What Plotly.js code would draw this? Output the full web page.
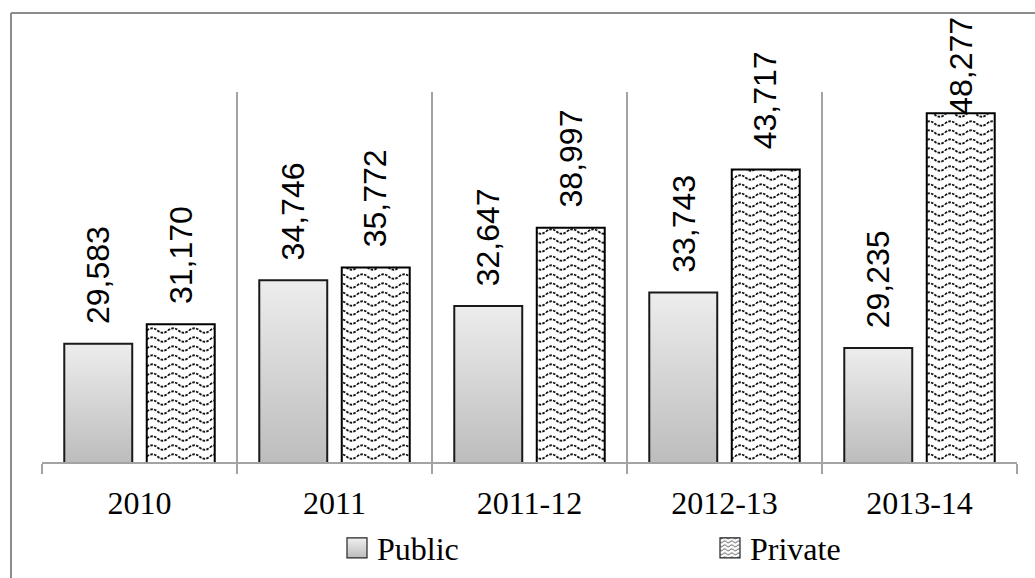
<!DOCTYPE html>
<html><head><meta charset="utf-8">
<script src="https://cdn.plot.ly/plotly-3.0.1.min.js"></script>
<style>html,body{margin:0;padding:0;background:#fff;} #chart{width:1035px;height:578px;}</style>
</head><body><div id="chart"></div>
<script>
// ---- data ----
const categories = ['2010', '2011', '2011-12', '2012-13', '2013-14'];
const publicValues = [29583, 34746, 32647, 33743, 29235];
const privateValues = [31170, 35772, 38997, 43717, 48277];
const seriesNames = ['Public', 'Private'];

// ---- layout constants ----
const W = 1035, H = 578;
const M = {l: 42, r: 18, t: 92, b: 116, autoexpand: false};
const plotW = W - M.l - M.r, plotH = H - M.t - M.b;
const yMin = 20000, yMax = 50000;
const bargap = 0.154, bargroupgap = 0.176;
const slotPx = plotW / categories.length * (1 - bargap) / 2;
const labelGap = 18, labelLen = 95, labelTopLimit = 22;

function fmt(v) { return v.toLocaleString('en-US'); }
function valToPx(v) { return M.t + (yMax - v) / (yMax - yMin) * plotH; }

const traces = [
  {type: 'bar', name: seriesNames[0], x: categories, y: publicValues, legend: 'legend',
   marker: {color: '#d6d6d6', line: {color: '#1a1a1a', width: 2}}, hoverinfo: 'none'},
  {type: 'bar', name: seriesNames[1], x: categories, y: privateValues, legend: 'legend2',
   marker: {color: '#ffffff', line: {color: '#000000', width: 2}}, hoverinfo: 'none'}
];

const annotations = [];
[publicValues, privateValues].forEach((vals, s) => {
  vals.forEach((v, i) => {
    const room = valToPx(v) - labelTopLimit - labelLen;
    annotations.push({
      x: i, y: v, xref: 'x', yref: 'y', text: fmt(v), showarrow: false,
      textangle: -90, xanchor: 'center', yanchor: 'bottom',
      xshift: (s === 0 ? -1 : 1) * slotPx / 2,
      yshift: Math.min(labelGap, room),
      font: {family: 'Liberation Sans, Arial, sans-serif', size: 32, color: '#000'}
    });
  });
});

const legendFont = {family: 'Liberation Serif, Cambria, serif', size: 32, color: '#000'};
const legendY = (H - M.b - 548) / plotH;
const borderX = (11 - M.l) / plotW;
const borderY = (H - M.b - 13) / plotH;
const layout = {
  width: W, height: H, margin: M, paper_bgcolor: '#fff', plot_bgcolor: '#fff',
  barmode: 'group', bargap: bargap, bargroupgap: bargroupgap,
  showlegend: true,
  xaxis: {type: 'category', range: [-0.5, categories.length - 0.5], tickson: 'boundaries',
    showgrid: true, gridcolor: '#a3a3a3', gridwidth: 2,
    ticks: 'outside', ticklen: 10, tickwidth: 2, tickcolor: '#a3a3a3',
    showline: true, linecolor: '#a3a3a3', linewidth: 2, ticklabelstandoff: 12,
    tickfont: {family: 'Liberation Serif, Cambria, serif', size: 32, color: '#000'}, fixedrange: true},
  yaxis: {range: [yMin, yMax], visible: false, fixedrange: true},
  legend: {orientation: 'h', x: (337 - M.l) / plotW, xanchor: 'left', y: legendY, yanchor: 'middle',
    font: legendFont, itemwidth: 30, bgcolor: 'rgba(0,0,0,0)'},
  legend2: {orientation: 'h', x: (710 - M.l) / plotW, xanchor: 'left', y: legendY, yanchor: 'middle',
    font: legendFont, itemwidth: 30, bgcolor: 'rgba(0,0,0,0)'},
  annotations: annotations,
  shapes: [
    {type: 'line', xref: 'paper', yref: 'paper', x0: borderX, x1: borderX, y0: borderY, y1: -M.b / plotH - 0.02,
     line: {color: '#8c8c8c', width: 2}},
    {type: 'line', xref: 'paper', yref: 'paper', x0: borderX, x1: (W - M.l) / plotW + 0.02, y0: borderY, y1: borderY,
     line: {color: '#8c8c8c', width: 2}}
  ]
};

const NS = 'http://www.w3.org/2000/svg';
function el(tag, attrs, parent) {
  const e = document.createElementNS(NS, tag);
  for (const k in attrs) e.setAttribute(k, attrs[k]);
  if (parent) parent.appendChild(e);
  return e;
}
function ensureDefs(svg) {
  let defs = svg.querySelector('defs');
  if (!defs) defs = el('defs', {}, svg);
  if (!svg.querySelector('#wavePat')) {
    const pat = el('pattern', {id: 'wavePat', patternUnits: 'userSpaceOnUse', width: 21, height: 9}, defs);
    el('rect', {x: 0, y: 0, width: 21, height: 9, fill: '#fff'}, pat);
    el('path', {d: 'M0,4.5 C3.5,1.5 7,1.5 10.5,4.5 S17.5,7.5 21,4.5', fill: 'none', stroke: '#111',
      'stroke-width': 1.8, 'stroke-dasharray': '2.6 1.2'}, pat);
    const pat2 = el('pattern', {id: 'wavePatSmall', patternUnits: 'userSpaceOnUse', width: 7, height: 4}, defs);
    el('rect', {x: 0, y: 0, width: 7, height: 4, fill: '#fff'}, pat2);
    el('path', {d: 'M0,2 C1.2,0.8 2.3,0.8 3.5,2 S5.8,3.2 7,2', fill: 'none', stroke: '#222', 'stroke-width': 0.8}, pat2);
    const lg = el('linearGradient', {id: 'legGrad', x1: 0, y1: 0, x2: 0, y2: 1}, defs);
    el('stop', {offset: '0', 'stop-color': '#f0f0f0'}, lg);
    el('stop', {offset: '1', 'stop-color': '#bcbcbc'}, lg);
  }
  return defs;
}
function decorate() {
  const gd = document.getElementById('chart');
  const svg = gd.querySelector('svg.main-svg');
  const defs = ensureDefs(svg);
  const trs = gd.querySelectorAll('.barlayer .trace');
  if (trs[0]) {
    trs[0].querySelectorAll('.point path').forEach((p, i) => {
      const bb = p.getBBox();
      const id = 'pubGrad' + i;
      let g = svg.querySelector('#' + id);
      if (g) g.remove();
      g = el('linearGradient', {id: id, gradientUnits: 'userSpaceOnUse', x1: 0, x2: 0, y1: bb.y, y2: plotH}, defs);
      el('stop', {offset: '0', 'stop-color': '#ededed'}, g);
      el('stop', {offset: '1', 'stop-color': '#bdbdbd'}, g);
      p.style.fill = 'url(#' + id + ')';
    });
  }
  if (trs[1]) trs[1].querySelectorAll('.point path').forEach(p => { p.style.fill = 'url(#wavePat)'; });
  const legs = gd.querySelectorAll('.legendpoints path');
  legs.forEach((p, i) => {
    p.style.fill = i === 0 ? 'url(#legGrad)' : 'url(#wavePatSmall)';
    p.style.strokeWidth = '1.2px';
    p.style.stroke = '#222';
    p.setAttribute('d', 'M10,10H-10V-10H10Z');
  });
}

Plotly.newPlot('chart', traces, layout, {displayModeBar: false, staticPlot: true}).then(gd => {
  decorate();
  gd.on('plotly_afterplot', decorate);
});
</script>
</body></html>
